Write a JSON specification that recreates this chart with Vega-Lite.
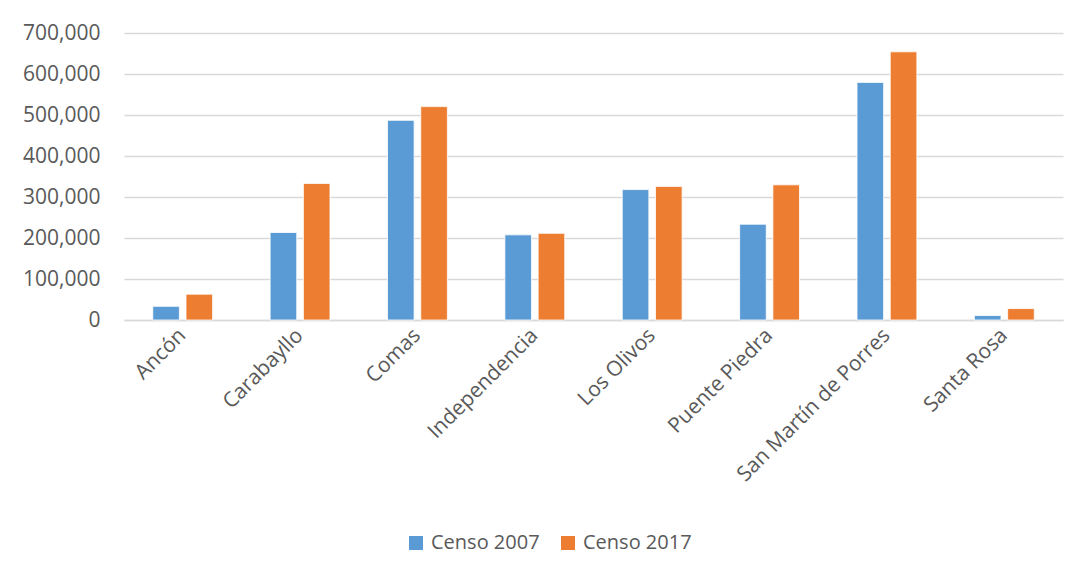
{
  "$schema": "https://vega.github.io/schema/vega-lite/v6.json",
  "width": 939,
  "height": 287,
  "autosize": {"type": "none"},
  "padding": {"left": 124, "top": 33, "right": 23, "bottom": 258},
  "background": "white",
  "data": {
    "values": [
      {"distrito": "Ancón", "censo": "Censo 2007", "poblacion": 33367},
      {"distrito": "Ancón", "censo": "Censo 2017", "poblacion": 62928},
      {"distrito": "Carabayllo", "censo": "Censo 2007", "poblacion": 213386},
      {"distrito": "Carabayllo", "censo": "Censo 2017", "poblacion": 333045},
      {"distrito": "Comas", "censo": "Censo 2007", "poblacion": 486977},
      {"distrito": "Comas", "censo": "Censo 2017", "poblacion": 520450},
      {"distrito": "Independencia", "censo": "Censo 2007", "poblacion": 207647},
      {"distrito": "Independencia", "censo": "Censo 2017", "poblacion": 211360},
      {"distrito": "Los Olivos", "censo": "Censo 2007", "poblacion": 318140},
      {"distrito": "Los Olivos", "censo": "Censo 2017", "poblacion": 325884},
      {"distrito": "Puente Piedra", "censo": "Censo 2007", "poblacion": 233602},
      {"distrito": "Puente Piedra", "censo": "Censo 2017", "poblacion": 329675},
      {"distrito": "San Martín de Porres", "censo": "Censo 2007", "poblacion": 579561},
      {"distrito": "San Martín de Porres", "censo": "Censo 2017", "poblacion": 654083},
      {"distrito": "Santa Rosa", "censo": "Censo 2007", "poblacion": 10903},
      {"distrito": "Santa Rosa", "censo": "Censo 2017", "poblacion": 27863}
    ]
  },
  "mark": {"type": "bar", "stroke": "white", "strokeWidth": 0.8},
  "encoding": {
    "x": {
      "field": "distrito",
      "type": "nominal",
      "sort": null,
      "scale": {"paddingInner": 0.49, "paddingOuter": 0.245},
      "axis": {
        "title": null,
        "labelAngle": -45,
        "labelAlign": "right",
        "labelBaseline": "middle",
        "labelPadding": 12,
        "labelLimit": 400,
        "ticks": false,
        "domainColor": "#d9d9d9",
        "domainWidth": 1.5,
        "labelFont": "Open Sans",
        "labelFontSize": 21,
        "labelColor": "#595959"
      }
    },
    "xOffset": {
      "field": "censo",
      "type": "nominal",
      "scale": {"paddingInner": 0.2, "paddingOuter": 0}
    },
    "y": {
      "field": "poblacion",
      "type": "quantitative",
      "scale": {"domain": [0, 700000], "nice": false},
      "axis": {
        "title": null,
        "values": [0, 100000, 200000, 300000, 400000, 500000, 600000, 700000],
        "format": ",d",
        "domain": false,
        "ticks": false,
        "labelPadding": 24,
        "gridColor": "#d9d9d9",
        "gridWidth": 1.5,
        "labelFont": "Open Sans",
        "labelFontSize": 21,
        "labelColor": "#595959"
      }
    },
    "color": {
      "field": "censo",
      "type": "nominal",
      "scale": {"range": ["#5B9BD5", "#ED7D31"]},
      "legend": {
        "title": null,
        "orient": "none",
        "direction": "horizontal",
        "legendX": 282,
        "legendY": 500,
        "symbolType": "square",
        "symbolSize": 196,
        "symbolStrokeWidth": 0,
        "labelFont": "Open Sans",
        "labelFontSize": 20,
        "labelColor": "#595959",
        "columnPadding": 18,
        "labelOffset": 5,
        "labelLimit": 300
      }
    }
  },
  "config": {"view": {"stroke": null}}
}
